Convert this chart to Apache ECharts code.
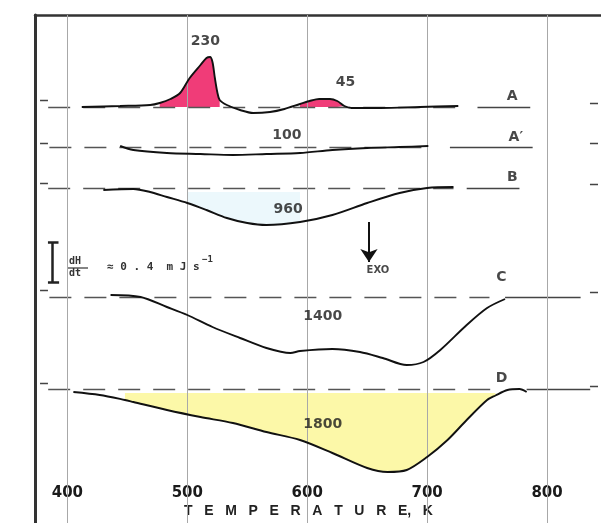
<!DOCTYPE html>
<html><head><meta charset="utf-8">
<script src="https://cdn.jsdelivr.net/npm/echarts@6/dist/echarts.min.js"></script>
<style>html,body{margin:0;padding:0;background:#fff}#c{width:601px;height:523px}</style>
</head><body><div id="c"></div>
<script>
// Temperature ticks (K)
const tempTicks = [400, 500, 600, 700, 800];
// Vertical offsets of each trace baseline (mJ/s, arbitrary stacking)
const offA = 4.16, offA1 = 3.76, offB = 3.35, offC = 2.26, offD = 1.34;
// Traces: [T (K), dH/dt deflection from baseline (mJ/s)]
const curveA = [[412,0],[444,0.01],[469,0.02],[477,0.04],[486,0.08],[494,0.14],[502,0.29],[511,0.42],[516,0.49],[519,0.50],[521,0.45],[523,0.29],[525,0.15],[527,0.07],[533,0.02],[544,-0.03],[555,-0.06],[569,-0.05],[581,-0.02],[594,0.03],[602,0.06],[610,0.08],[619,0.08],[625,0.06],[631,0.01],[637,-0.01],[661,-0.01],[694,0],[726,0.01]];
const curveA1 = [[444,0.01],[455,-0.03],[483,-0.06],[511,-0.07],[538,-0.08],[566,-0.07],[594,-0.06],[621,-0.03],[650,-0.01],[677,0],[701,0.01]];
const curveB = [[430,-0.02],[455,-0.01],[469,-0.04],[483,-0.09],[500,-0.15],[516,-0.22],[533,-0.30],[550,-0.35],[566,-0.37],[594,-0.34],[621,-0.27],[650,-0.15],[677,-0.05],[700,0],[722,0.01]];
const curveC = [[436,0.02],[461,0],[483,-0.10],[500,-0.18],[521,-0.30],[544,-0.41],[566,-0.51],[586,-0.56],[594,-0.54],[621,-0.52],[644,-0.55],[663,-0.61],[683,-0.68],[697,-0.65],[711,-0.53],[733,-0.28],[750,-0.11],[765,-0.02]];
const curveD = [[405,-0.03],[427,-0.06],[448,-0.11],[455,-0.13],[483,-0.21],[511,-0.28],[538,-0.34],[566,-0.43],[594,-0.51],[621,-0.64],[650,-0.79],[667,-0.83],[683,-0.81],[700,-0.68],[717,-0.51],[733,-0.31],[750,-0.11],[757,-0.065],[767,-0.01],[777,0],[783,-0.03]];
// Peak labels and trace letters
const peakLabels = ['230','45','100','960','1400','1800'];
const peakLabelPos = [[515,4.82],[632,4.41],[583,3.88],[584,3.14],[613,2.07],[613,0.99]];
const traceLetters = ['A','A′','B','C','D'];
const traceLetterPos = [[771,4.27],[774,3.86],[771,3.46],[762,2.46],[762,1.45]];
// baseline extents (T)
const dashedBase = [[offA,384,726],[offA1,385,701],[offB,384,722],[offC,385,752],[offD,384,761]];
const solidBase = [[offA,742,786],[offA1,719,788],[offB,733,777],[offC,765,828],[offD,783,836]];
const leftMarks = [4.23,3.80,3.40,2.33,1.40];
const rightMarks = [4.20,3.80,3.39,2.31,1.37];
// scale bar: 0.4 mJ/s
const scaleBarTop = 2.81, scaleBarLen = 0.4, scaleBarT = 387.6;
// EXO arrow
const exoArrow = [[651.5,3.01],[651.5,2.61]];

function abs(c, off){ return c.map(p => [p[0], +(off + p[1]).toFixed(4)]); }
function range(c, off, a, b){ return abs(c.filter(p => p[0] >= a && p[0] <= b), off); }

const SM = 0.3;
function curve(name, c, off){
  return {name, type:'line', data: abs(c, off), smooth: SM, showSymbol:false, z:5,
    lineStyle:{color:'#111', width:1.9}};
}
function fill(name, data, origin, color){
  return {name, type:'line', data, smooth: SM, showSymbol:false, z:2,
    lineStyle:{width:0}, areaStyle:{color, origin, opacity:1}};
}

const numFont = 'DejaVu Sans';
const chart = echarts.init(document.getElementById('c'));
chart.setOption({
  backgroundColor:'#fff',
  animation:false,
  grid:{left:35, right:0, top:15, bottom:0},
  xAxis:[{
    type:'value', min:373, max:845, position:'bottom',
    axisLine:{show:false},
    axisTick:{show:true, inside:true, length:4, customValues: tempTicks, lineStyle:{color:'#333'}},
    axisLabel:{show:true, inside:true, margin:22, customValues: tempTicks, fontSize:15, fontFamily:numFont, fontWeight:'bold', color:'#1a1a1a'},
    splitLine:{show:false}
  },{
    type:'value', min:373, max:845, position:'top',
    axisLine:{show:true, lineStyle:{color:'#333', width:2.5}},
    axisTick:{show:true, inside:true, length:5, customValues: tempTicks, lineStyle:{color:'#333'}},
    axisLabel:{show:false}, splitLine:{show:false}
  }],
  yAxis:{type:'value', min:0, max:5.08,
    axisLine:{show:true, lineStyle:{color:'#333', width:3}},
    axisTick:{show:false}, axisLabel:{show:false}, splitLine:{show:false}},
  series:[
    {name:'grid', type:'line', data:[], z:1,
      markLine:{silent:true, symbol:['none','none'], label:{show:false},
        lineStyle:{color:'#a8a8a8', width:1, type:'solid'},
        data: tempTicks.map(t => ({xAxis:t}))}},
    fill('peakA1', range(curveA, offA, 477, 527), offA, '#f03c78'),
    fill('peakA2', range(curveA, offA, 594, 631), offA, '#f03c78'),
    fill('fillB', range(curveB, offB, 500, 594), offB - 0.04, '#ecf8fc'),
    fill('fillD', range(curveD, offD, 448, 757), offD - 0.04, '#fcf8a8'),
    {name:'baselines', type:'lines', coordinateSystem:'cartesian2d', z:3, silent:true,
      lineStyle:{color:'#555', width:1.4, type:[22,13], opacity:1},
      data: dashedBase.map(b => ({coords:[[b[1],b[0]],[b[2],b[0]]]}))},
    {name:'baseEnds', type:'lines', coordinateSystem:'cartesian2d', z:3, silent:true,
      lineStyle:{color:'#444', width:1.4, type:'solid', opacity:1},
      data: solidBase.map(b => ({coords:[[b[1],b[0]],[b[2],b[0]]]}))
        .concat(leftMarks.map(v => ({coords:[[377.2,v],[383.8,v]]})))
        .concat(rightMarks.map(v => ({coords:[[835.8,v],[842.5,v]]})))},
    curve('A', curveA, offA),
    curve('A′', curveA1, offA1),
    curve('B', curveB, offB),
    curve('C', curveC, offC),
    curve('D', curveD, offD),
    {name:'scale', type:'lines', coordinateSystem:'cartesian2d', z:6, silent:true,
      lineStyle:{color:'#222', width:2.5, type:'solid', opacity:1},
      data:[
        {coords:[[scaleBarT, scaleBarTop],[scaleBarT, scaleBarTop - scaleBarLen]]},
        {coords:[[scaleBarT-3.8, scaleBarTop],[scaleBarT+5, scaleBarTop]]},
        {coords:[[scaleBarT-3.8, scaleBarTop - scaleBarLen],[scaleBarT+5.5, scaleBarTop - scaleBarLen]]}
      ]},
    {name:'exo', type:'lines', coordinateSystem:'cartesian2d', z:6, silent:true,
      symbol:['none','arrow'], symbolSize:13,
      lineStyle:{color:'#111', width:2, type:'solid', opacity:1},
      data:[{coords: exoArrow}]},
    {name:'labels', type:'scatter', z:7, silent:true, symbolSize:1, itemStyle:{color:'rgba(0,0,0,0)'},
      label:{show:true, position:'inside', formatter: p => p.name, fontFamily:numFont, fontWeight:'bold', fontSize:14, color:'#1a1a1a'},
      data: peakLabels.map((t,i) => ({name:t, value: peakLabelPos[i]}))
        .concat(traceLetters.map((t,i) => ({name:t, value: traceLetterPos[i]})))
        .concat([{name:'EXO', value:[659,2.53], label:{fontSize:10}}])}
  ],
  graphic:[
    {type:'text', left:69, top:256, style:{text:'dH', font:'bold 10px "DejaVu Sans Mono"', fill:'#333'}},
    {type:'line', shape:{x1:68, y1:268, x2:88, y2:268}, style:{stroke:'#333', lineWidth:1.2}},
    {type:'text', left:69, top:268, style:{text:'dt', font:'bold 10px "DejaVu Sans Mono"', fill:'#333'}},
    {type:'text', left:107, top:262, style:{text:'≈ 0 . 4  m J s', font:'bold 11px "DejaVu Sans Mono"', fill:'#333'}},
    {type:'text', left:202, top:255, style:{text:'−1', font:'bold 9px "DejaVu Sans Mono"', fill:'#333'}},
    {type:'text', left:184, top:504, style:{text:'T   E   M   P   E   R   A   T   U   R   E,   K', font:'bold 14px "Liberation Sans"', fill:'#222'}}
  ]
});
</script></body></html>
